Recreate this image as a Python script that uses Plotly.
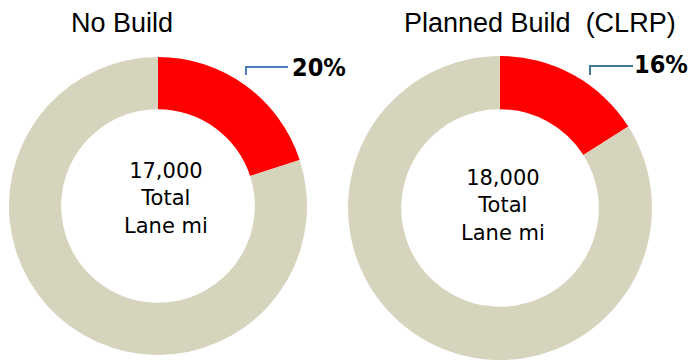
import plotly.graph_objects as go

# ---- data ----
chart_titles = ["No Build", "Planned Build  (CLRP)"]
slice_labels = ["Congested", "Not congested"]
no_build_values = [20, 80]
planned_build_values = [16, 84]
total_lane_miles = [17000, 18000]
slice_colors = ["#FF0000", "#D7D4BE"]

W, H = 689, 360

def px_x(x):
    return x / W

def px_y(y):
    return 1 - y / H

fig = go.Figure()

# donut geometry (pixels): center x, center y, radius
geoms = [(158, 206, 149), (500, 208, 152)]
series = [no_build_values, planned_build_values]

for vals, (cx, cy, r) in zip(series, geoms):
    y0 = max(0, px_y(cy + r))
    y1 = min(1, px_y(cy - r))
    fig.add_trace(go.Pie(
        labels=slice_labels,
        values=vals,
        hole=0.65,
        sort=False,
        direction="clockwise",
        rotation=0,
        marker=dict(colors=slice_colors, line=dict(width=0)),
        textinfo="none",
        hoverinfo="label+percent",
        domain=dict(x=[px_x(cx - r), px_x(cx + r)], y=[y0, y1]),
        showlegend=False,
    ))

annotations = []
# titles
title_pos = [(122, 23), (540, 23)]
for t, (x, y) in zip(chart_titles, title_pos):
    annotations.append(dict(
        text=t, x=px_x(x), y=px_y(y), xref="paper", yref="paper",
        showarrow=False, xanchor="center", yanchor="middle",
        font=dict(family="Liberation Sans, Arial, sans-serif", size=27, color="#000000"),
    ))

# percentage labels
pct_pos = [(319, 67), (661, 64)]
for vals, (x, y) in zip(series, pct_pos):
    annotations.append(dict(
        text=f"<b>{vals[0]}%</b>", x=px_x(x), y=px_y(y), xref="paper", yref="paper",
        showarrow=False, xanchor="center", yanchor="middle",
        font=dict(family="DejaVu Sans Condensed, sans-serif", size=25, color="#000000"),
    ))

# center texts
center_pos = [(166, 198), (503, 205)]
for tot, (x, y) in zip(total_lane_miles, center_pos):
    annotations.append(dict(
        text=f"{tot:,}<br>Total<br>Lane mi", x=px_x(x), y=px_y(y), xref="paper", yref="paper",
        showarrow=False, xanchor="center", yanchor="middle",
        font=dict(family="DejaVu Sans, Verdana, sans-serif", size=21, color="#000000"),
    ))

# connector lines
connectors = [((246, 75), (246, 67), (288, 67), "#4A7EBB"),
              ((590, 75), (590, 66), (633, 66), "#3E7A96")]
shapes = []
for (a, b, c, col) in connectors:
    path = f"M {px_x(a[0])} {px_y(a[1])} L {px_x(b[0])} {px_y(b[1])} L {px_x(c[0])} {px_y(c[1])}"
    shapes.append(dict(type="path", path=path, xref="paper", yref="paper",
                       line=dict(color=col, width=2)))

fig.update_layout(
    width=W, height=H,
    margin=dict(l=0, r=0, t=0, b=0),
    paper_bgcolor="#FFFFFF",
    plot_bgcolor="#FFFFFF",
    annotations=annotations,
    shapes=shapes,
    showlegend=False,
)

fig.write_html("out.html")
